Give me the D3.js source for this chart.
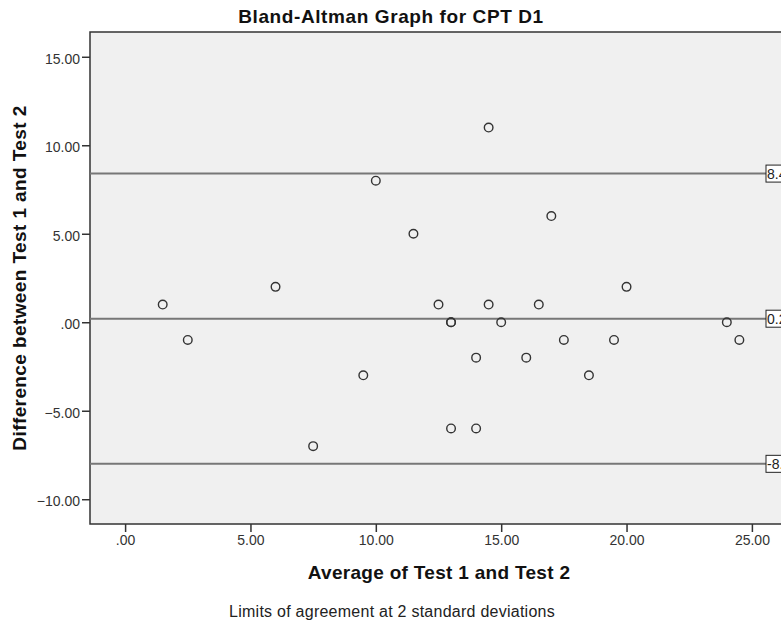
<!DOCTYPE html>
<html lang="en">
<meta charset="utf-8">

<head>
    <style>
        body {
            margin: 0;
            background: #fff;
            font-family: "Liberation Sans", Arial, sans-serif;
        }
    </style>
    <script src="https://d3js.org/d3.v7.min.js"></script>
</head>

<body>
</body>
<script>
    // chart data
    var avgValues = [1.5, 2.5, 6, 7.5, 9.5, 10, 11.5, 12.5, 13, 13, 13, 14, 14, 14.5, 14.5,
        15, 16, 16.5, 17, 17.5, 18.5, 19.5, 20, 24, 24.5];
    var diffValues = [1, -1, 2, -7, -3, 8, 5, 1, 0, 0, -6, -2, -6, 11, 1,
        0, -2, 1, 6, -1, -3, -1, 2, 0, -1];
    var refValues = [8.4, 0.2, -8.0];
    var refLabels = ["8.40", "0.20", "-8.00"];
    var xTicks = [0, 5, 10, 15, 20, 25];
    var yTicks = [-10, -5, 0, 5, 10, 15];

    var width = 781, height = 626;
    // plot frame edges (note: "top" is reserved on window)
    var pLeft = 90, pRight = 787, pTop = 32, pBottom = 524;

    var fmt = function (d) {
        var s = d3.format(".2f")(d);
        return s.replace(/^(-?)0\./, "$1.");
    };

    var svg = d3.select("body")
        .append("svg")
        .attr("width", width)
        .attr("height", height);

    var x = d3.scaleLinear().domain([-1.4, 26.4]).range([pLeft, pRight]);
    var y = d3.scaleLinear().domain([-11.4, 16.4]).range([pBottom, pTop]);

    // plot area
    svg.append("rect")
        .attr("x", pLeft).attr("y", pTop)
        .attr("width", pRight - pLeft).attr("height", pBottom - pTop)
        .attr("fill", "#f0f0f0")
        .attr("stroke", "#333")
        .attr("stroke-width", 1.5);

    // axes
    var yAxis = svg.append("g")
        .attr("transform", "translate(" + pLeft + ",0)")
        .call(d3.axisLeft(y).tickValues(yTicks).tickFormat(fmt).tickSize(8).tickPadding(2));
    var xAxis = svg.append("g")
        .attr("transform", "translate(0," + pBottom + ")")
        .call(d3.axisBottom(x).tickValues(xTicks).tickFormat(fmt).tickSize(8).tickPadding(3));

    [xAxis, yAxis].forEach(function (a) {
        a.select(".domain").remove();
        a.selectAll("line").attr("stroke", "#333").attr("stroke-width", 1.5);
        a.selectAll("text")
            .attr("fill", "#333")
            .style("font-family", "'Liberation Sans', Arial, sans-serif")
            .style("font-size", "14px");
    });
    yAxis.selectAll("text").attr("dy", "0.45em");

    // reference lines
    var refs = svg.append("g");
    refs.selectAll("line")
        .data(refValues)
        .enter()
        .append("line")
        .attr("x1", pLeft).attr("x2", pRight)
        .attr("y1", function (d) { return y(d); })
        .attr("y2", function (d) { return y(d); })
        .attr("stroke", "#777")
        .attr("stroke-width", 2);

    var tags = refs.selectAll("g.tag")
        .data(refValues)
        .enter()
        .append("g")
        .attr("class", "tag")
        .attr("transform", function (d) { return "translate(766," + y(d) + ")"; });
    tags.append("rect")
        .attr("x", 0).attr("y", -8.5)
        .attr("width", 36).attr("height", 17)
        .attr("fill", "#fff")
        .attr("stroke", "#222")
        .attr("stroke-width", 1);
    tags.append("text")
        .attr("x", 1).attr("y", 5)
        .attr("font-size", "14px")
        .attr("fill", "#222")
        .text(function (d, i) { return refLabels[i]; });

    // points
    svg.append("g")
        .selectAll("circle")
        .data(avgValues)
        .enter()
        .append("circle")
        .attr("cx", function (d) { return x(d); })
        .attr("cy", function (d, i) { return y(diffValues[i]); })
        .attr("r", 4.3)
        .attr("fill", "none")
        .attr("stroke", "#333")
        .attr("stroke-width", 1.4);

    // titles
    svg.append("text")
        .attr("x", 391).attr("y", 23)
        .attr("text-anchor", "middle")
        .attr("font-size", "19px")
        .attr("font-weight", "bold")
        .attr("letter-spacing", "0.6px")
        .attr("fill", "#111")
        .text("Bland-Altman Graph for CPT D1");

    svg.append("text")
        .attr("x", 439).attr("y", 579)
        .attr("text-anchor", "middle")
        .attr("font-size", "19px")
        .attr("font-weight", "bold")
        .attr("letter-spacing", "0.3px")
        .attr("fill", "#111")
        .text("Average of Test 1 and Test 2");

    svg.append("text")
        .attr("transform", "translate(26," + (pTop + pBottom) / 2 + ") rotate(-90)")
        .attr("text-anchor", "middle")
        .attr("font-size", "19px")
        .attr("font-weight", "bold")
        .attr("letter-spacing", "0.4px")
        .attr("fill", "#111")
        .text("Difference between Test 1 and Test 2");

    svg.append("text")
        .attr("x", 392).attr("y", 617)
        .attr("text-anchor", "middle")
        .attr("font-size", "16px")
        .attr("letter-spacing", "0.25px")
        .attr("fill", "#222")
        .text("Limits of agreement at 2 standard deviations");
</script>

</html>
